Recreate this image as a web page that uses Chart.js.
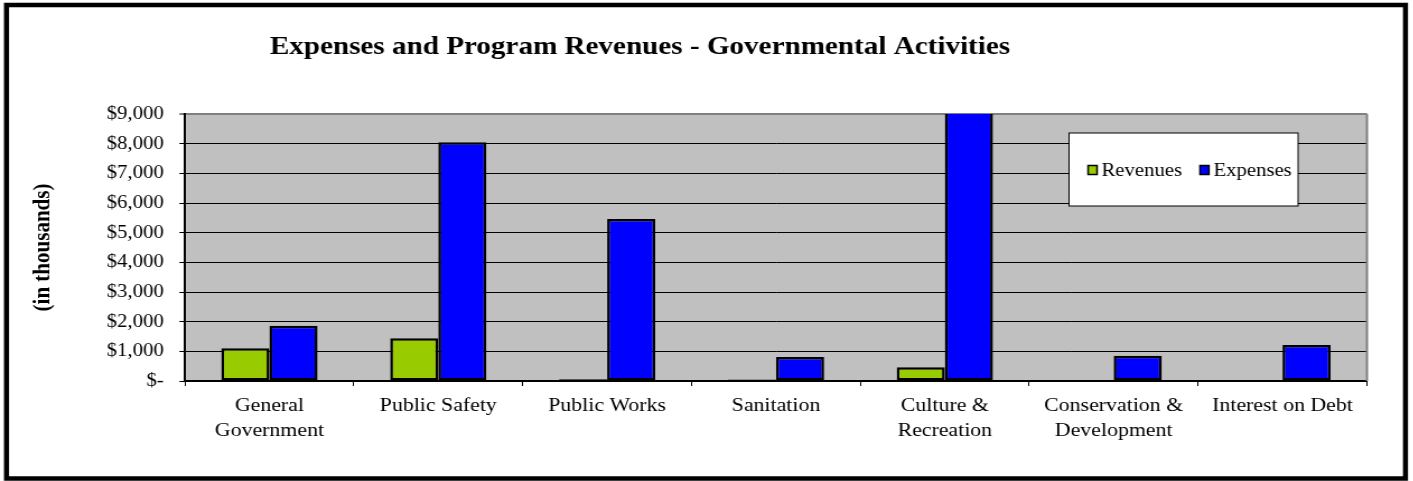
<!DOCTYPE html>
<html>
<head>
<meta charset="utf-8">
<title>Expenses and Program Revenues</title>
<script src="https://cdn.jsdelivr.net/npm/chart.js@4/dist/chart.umd.min.js"></script>
<style>
  html, body { margin: 0; padding: 0; background: #fff; overflow: hidden; }
  /* the sheet is laid out a bit narrower and stretched sideways, like the exported Excel chart */
  #wrap { width: 1262px; height: 481px; transform: scaleX(1.12); transform-origin: 0 0; }
  #chart { display: block; width: 1262px; height: 481px; }
</style>
</head>
<body>
<div id="wrap"><canvas id="chart" width="1262" height="481"></canvas></div>
<script>
const categories = [
  ['General', 'Government'],
  'Public Safety',
  'Public Works',
  'Sanitation',
  ['Culture &', 'Recreation'],
  ['Conservation &', 'Development'],
  'Interest on Debt'
];
const revenues = [1100, 1440, 60, 50, 460, 0, 0];
const expenses = [1860, 8050, 5460, 810, 9700, 850, 1210];
const yTicks = [0, 1000, 2000, 3000, 4000, 5000, 6000, 7000, 8000, 9000];

const chartTitle = 'Expenses and Program Revenues - Governmental Activities';
const serif = "'Liberation Serif', 'Times New Roman', serif";

const $ = (id) => document.getElementById(id);
const money = (v) => v === 0 ? '$-' : '$' + v.toLocaleString('en-US');

// background, title, boxed legend and the outer frame
const sheetFrame = {
  id: 'sheetFrame',
  beforeDraw(chart){
    const {ctx, chartArea: a} = chart;
    ctx.save();
    ctx.fillStyle = '#fff';
    ctx.fillRect(0, 0, chart.width, chart.height);
    ctx.fillStyle = '#c0c0c0';
    ctx.fillRect(a.left, a.top, a.right - a.left, a.bottom - a.top);
    ctx.restore();
  },
  afterDraw(chart){
    const {ctx, chartArea: a} = chart;
    ctx.save();
    // plot-area edge on the right
    ctx.strokeStyle = '#808080';
    ctx.lineWidth = 2;
    ctx.beginPath();
    ctx.moveTo(a.right, a.top);
    ctx.lineTo(a.right, a.bottom);
    ctx.stroke();

    // legend box
    const bx = 954.5, by = 133, bw = 204.5, bh = 73;
    ctx.fillStyle = '#fff';
    ctx.fillRect(bx, by, bw, bh);
    ctx.strokeStyle = '#000';
    ctx.lineWidth = 1;
    ctx.strokeRect(bx, by, bw, bh);
    ctx.font = '18.5px ' + serif;
    ctx.textBaseline = 'middle';
    ctx.textAlign = 'left';
    let x = 971.5;
    const cy = 170;
    chart.data.datasets.forEach(ds => {
      ctx.fillStyle = ds.backgroundColor;
      ctx.fillRect(x, cy - 4.5, 8, 9);
      ctx.lineWidth = 1.5;
      ctx.strokeStyle = '#000';
      ctx.strokeRect(x, cy - 4.5, 8, 9);
      ctx.fillStyle = '#000';
      ctx.fillText(ds.label, x + 12, cy + 1);
      x += 12 + ctx.measureText(ds.label).width + 16;
    });

    // title
    ctx.font = 'bold 26px ' + serif;
    ctx.textAlign = 'center';
    ctx.textBaseline = 'alphabetic';
    ctx.fillStyle = '#000';
    ctx.fillText(chartTitle, 571.4, 54);

    // outer frame
    ctx.strokeStyle = '#000';
    ctx.lineWidth = 4.5;
    ctx.strokeRect(5.8, 5, 1249.1, 473.5);
    ctx.restore();
  }
};

new Chart($('chart'), {
  type: 'bar',
  data: {
    labels: categories,
    datasets: [
      {label: 'Revenues', data: revenues, backgroundColor: '#99cc00', borderColor: '#000', borderWidth: 2.5, borderSkipped: false},
      {label: 'Expenses', data: expenses, backgroundColor: '#0000ff', borderColor: '#000', borderWidth: 2.5, borderSkipped: false}
    ]
  },
  options: {
    responsive: false,
    animation: false,
    devicePixelRatio: 1,
    layout: {padding: {top: 114, right: 41.5, bottom: 0, left: 0}},
    datasets: {bar: {categoryPercentage: 0.57, barPercentage: 1}},
    plugins: {
      legend: {display: false},
      title: {display: false},
      tooltip: {enabled: false}
    },
    scales: {
      x: {
        afterFit: (axis) => { axis.height = 100; },
        grid: {offset: true, drawOnChartArea: false, drawTicks: true, tickLength: 5, tickColor: '#000', tickWidth: 1},
        border: {color: '#000', width: 2},
        ticks: {
          color: '#000', autoSkip: false, maxRotation: 0, minRotation: 0, padding: 8,
          font: {family: serif, size: 19.5, lineHeight: 1.25}
        }
      },
      y: {
        min: 0,
        max: 9000,
        afterFit: (axis) => { axis.width = 165.2; },
        afterBuildTicks: (axis) => { axis.ticks = yTicks.map(v => ({value: v})); },
        grid: {
          color: (c) => c.tick && c.tick.value === 9000 ? '#808080' : '#000',
          lineWidth: (c) => c.tick && c.tick.value === 9000 ? 2 : 1,
          tickLength: 5, tickColor: '#000', tickWidth: 1
        },
        border: {color: '#000', width: 2},
        ticks: {
          color: '#000', padding: 14,
          font: {family: serif, size: 18.5},
          callback: (v) => money(v)
        },
        title: {
          display: true, text: '(in thousands)', color: '#000',
          font: {family: serif, size: 21, weight: 'bold'},
          padding: {top: 26, bottom: 0}
        }
      }
    }
  },
  plugins: [sheetFrame]
});
</script>
</body>
</html>
